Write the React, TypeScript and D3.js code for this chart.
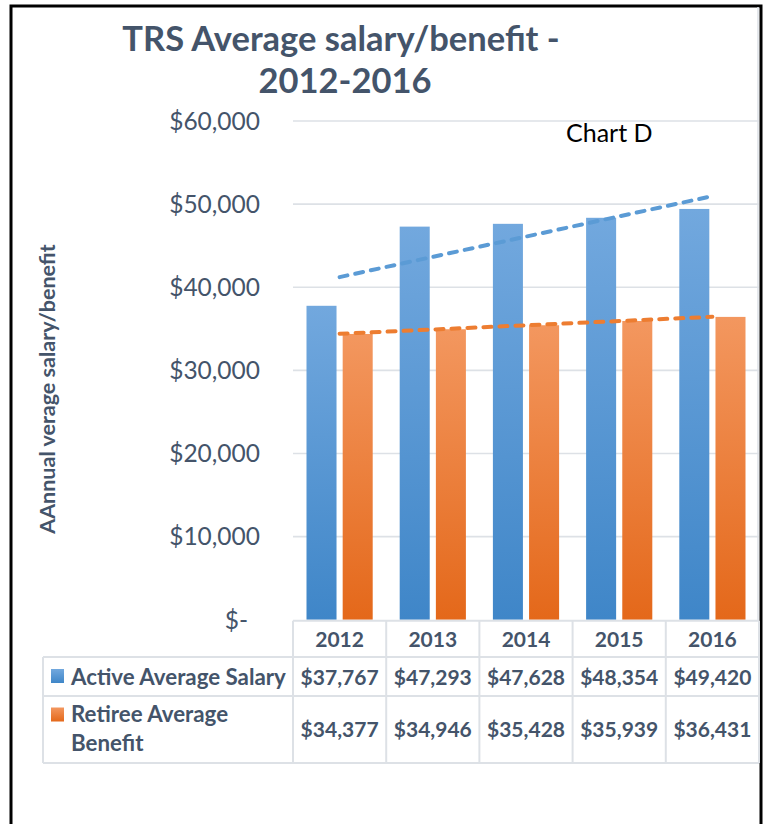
import React, { useRef, useEffect } from 'react';
import * as d3 from 'd3';

const years = ['2012', '2013', '2014', '2015', '2016'];
const activeSalary = [37767, 47293, 47628, 48354, 49420];
const retireeBenefit = [34377, 34946, 35428, 35939, 36431];
const seriesNames = ['Active Average Salary', 'Retiree Average Benefit'];
const yTicks = [0, 10000, 20000, 30000, 40000, 50000, 60000];

const FONT = "Lato, 'Open Sans', sans-serif";
const TEXT = '#44546A';
const GRID = '#DDE1E6';

// least squares line over category index, like Excel's linear trendline
function trend(values: number[]) {
    const xs = values.map((_, i) => i);
    const mx = d3.mean(xs) as number;
    const my = d3.mean(values) as number;
    const slope = d3.sum(xs, (x, i) => (x - mx) * (values[i] - my)) / d3.sum(xs, x => (x - mx) ** 2);
    return xs.map(x => my + slope * (x - mx));
}

export default function App() {
    const svgRef = useRef<SVGSVGElement>(null);

    useEffect(() => {
        document.body.style.margin = '0';
        const svg = d3.select(svgRef.current);
        svg.selectAll('*').remove();

        const defs = svg.append('defs');
        const grads = [
            { id: 'gBlue', top: '#72A8DE', bottom: '#3F86C8' },
            { id: 'gOrange', top: '#F3975F', bottom: '#E4681A' },
        ];
        grads.forEach(g => {
            const lg = defs.append('linearGradient').attr('id', g.id)
                .attr('x1', 0).attr('y1', 0).attr('x2', 0).attr('y2', 1);
            lg.append('stop').attr('offset', 0).attr('stop-color', g.top);
            lg.append('stop').attr('offset', 1).attr('stop-color', g.bottom);
        });
        const fills = ['url(#gBlue)', 'url(#gOrange)'];
        const lineColors = ['#5B9BD5', '#ED7D31'];

        // outer frame
        svg.append('rect')
            .attr('x', 11).attr('y', 6).attr('width', 750).attr('height', 830)
            .attr('fill', 'none').attr('stroke', '#000').attr('stroke-width', 3);

        const x0 = d3.scaleBand().domain(years).range([293, 759]).padding(0);
        const x1 = d3.scaleBand().domain(seriesNames)
            .range([13.5, x0.bandwidth() - 13.5]).paddingInner(0.17).paddingOuter(0);
        const y = d3.scaleLinear().domain([0, 60000]).range([619.7, 121]);

        // gridlines
        svg.append('g').selectAll('line')
            .data(yTicks.filter(d => d > 0))
            .join('line')
            .attr('x1', 293).attr('x2', 759)
            .attr('y1', d => y(d)).attr('y2', d => y(d))
            .attr('stroke', GRID).attr('stroke-width', 1.6);
        svg.append('line')
            .attr('x1', 758).attr('x2', 758).attr('y1', 7).attr('y2', 620)
            .attr('stroke', GRID).attr('stroke-width', 1.5);

        // y tick labels
        svg.append('g').selectAll('text')
            .data(yTicks)
            .join('text')
            .attr('x', d => (d === 0 ? 248 : 260))
            .attr('y', d => y(d))
            .attr('dy', '0.36em')
            .attr('text-anchor', 'end')
            .attr('font-family', FONT).attr('font-size', 24.5).attr('fill', TEXT)
            .text(d => (d === 0 ? '$-' : '$' + d3.format(',')(d)));

        // bars
        const series = [activeSalary, retireeBenefit];
        series.forEach((vals, si) => {
            svg.append('g').selectAll('rect')
                .data(vals)
                .join('rect')
                .attr('x', (_, i) => (x0(years[i]) as number) + (x1(seriesNames[si]) as number))
                .attr('width', x1.bandwidth())
                .attr('y', d => y(d))
                .attr('height', d => y(0) - y(d))
                .attr('fill', fills[si]);
        });

        // trendlines
        series.forEach((vals, si) => {
            const t = trend(vals);
            const line = d3.line<number>()
                .x((_, i) => (x0(years[i]) as number) + x0.bandwidth() / 2)
                .y(d => y(d));
            svg.append('path')
                .attr('d', line(t))
                .attr('fill', 'none')
                .attr('stroke', lineColors[si])
                .attr('stroke-width', 4)
                .attr('stroke-linecap', 'round')
                .attr('stroke-dasharray', '8,8');
        });

        // data table
        const rowY = [620.7, 657, 696, 763];
        const tbl = svg.append('g').attr('stroke', GRID).attr('stroke-width', 2);
        tbl.append('line').attr('x1', 293).attr('x2', 759).attr('y1', rowY[0]).attr('y2', rowY[0]);
        [rowY[1], rowY[2], rowY[3]].forEach(yy =>
            tbl.append('line').attr('x1', 43).attr('x2', 759).attr('y1', yy).attr('y2', yy));
        tbl.append('line').attr('x1', 43).attr('x2', 43).attr('y1', rowY[1]).attr('y2', rowY[3]);
        [...years.map(yr => x0(yr) as number), 759].forEach(xx =>
            tbl.append('line').attr('x1', xx).attr('x2', xx).attr('y1', rowY[0]).attr('y2', rowY[3]));

        const cellText = (sel: any, size = 21) => sel
            .attr('font-family', FONT).attr('font-weight', 700)
            .attr('font-size', size).attr('fill', TEXT);

        svg.append('g').selectAll('text').data(years).join('text')
            .attr('x', d => (x0(d) as number) + x0.bandwidth() / 2)
            .attr('y', 639).attr('dy', '0.36em').attr('text-anchor', 'middle')
            .call(cellText).text(d => d);

        const valueRowsY = [677, 729.5];
        series.forEach((vals, si) => {
            svg.append('g').selectAll('text').data(vals).join('text')
                .attr('x', (_, i) => (x0(years[i]) as number) + x0.bandwidth() / 2)
                .attr('y', valueRowsY[si]).attr('dy', '0.36em').attr('text-anchor', 'middle')
                .call(cellText).text(d => '$' + d3.format(',')(d));
        });

        // legend keys in table
        const keyY = [669, 707.5];
        seriesNames.forEach((_, si) => {
            svg.append('rect').attr('x', 51).attr('y', keyY[si]).attr('width', 13).attr('height', 14)
                .attr('fill', fills[si]);
        });
        svg.append('text').attr('x', 71).attr('y', 677).attr('dy', '0.36em')
            .call(cellText, 22.3).text(seriesNames[0]);
        const label2 = svg.append('text').call(cellText, 22.3);
        label2.append('tspan').attr('x', 71).attr('y', 713.5).attr('dy', '0.36em').text('Retiree Average');
        label2.append('tspan').attr('x', 71).attr('y', 743).attr('dy', '0.36em').text('Benefit');

        // titles
        const title = svg.append('text').attr('text-anchor', 'middle')
            .attr('font-family', FONT).attr('font-weight', 700).attr('font-size', 34.5).attr('fill', TEXT);
        title.append('tspan').attr('x', 341).attr('y', 51).text('TRS Average salary/benefit -');
        title.append('tspan').attr('x', 345).attr('y', 93).text('2012-2016');

        svg.append('text')
            .attr('transform', 'translate(55,389) rotate(-90)')
            .attr('text-anchor', 'middle')
            .attr('font-family', FONT).attr('font-weight', 700).attr('font-size', 21.5).attr('fill', TEXT)
            .text('AAnnual verage salary/benefit');

        svg.append('text').attr('x', 566).attr('y', 142)
            .attr('font-family', FONT).attr('font-size', 25).attr('fill', '#000')
            .text('Chart D');
    }, []);

    return <svg ref={svgRef} width={767} height={824} style={{ display: 'block', background: '#fff' }} />;
}
